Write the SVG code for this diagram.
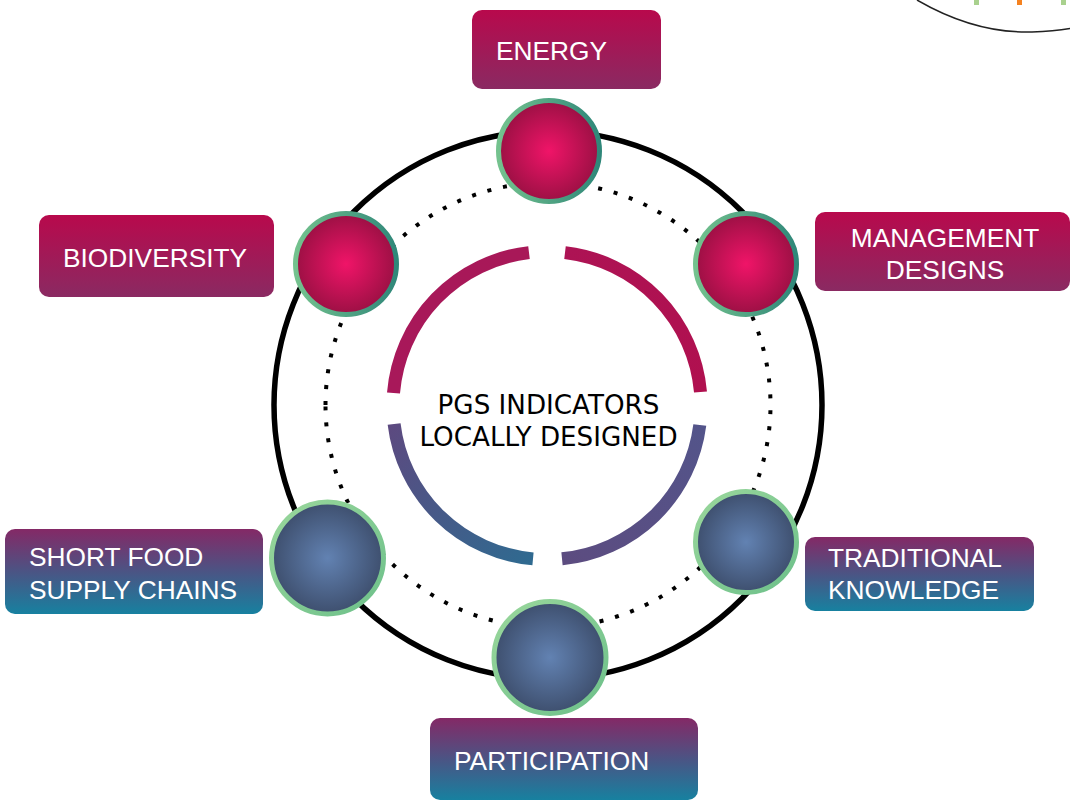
<svg xmlns="http://www.w3.org/2000/svg" width="1070" height="800" viewBox="0 0 1070 800">
<defs>
<radialGradient id="gPink" cx="0.5" cy="0.5" r="0.5">
<stop offset="0" stop-color="#f01468"/>
<stop offset="1" stop-color="#9c1044"/>
</radialGradient>
<radialGradient id="gBlue" cx="0.5" cy="0.5" r="0.5">
<stop offset="0" stop-color="#6282b2"/>
<stop offset="1" stop-color="#3e4f6e"/>
</radialGradient>
<linearGradient id="sTeal" x1="0" y1="0" x2="1" y2="0">
<stop offset="0" stop-color="#74c28e"/>
<stop offset="1" stop-color="#2f8779"/>
</linearGradient>
<linearGradient id="sGreen" x1="0" y1="0" x2="1" y2="1">
<stop offset="0" stop-color="#9ad79c"/>
<stop offset="1" stop-color="#6dc08a"/>
</linearGradient>
<linearGradient id="bPink" x1="0" y1="0" x2="0" y2="1">
<stop offset="0" stop-color="#b8094c"/>
<stop offset="1" stop-color="#8a2a62"/>
</linearGradient>
<linearGradient id="bBlue" x1="0" y1="0" x2="0" y2="1">
<stop offset="0" stop-color="#842966"/>
<stop offset="0.5" stop-color="#4b5484"/>
<stop offset="1" stop-color="#1781a0"/>
</linearGradient>
<linearGradient id="aBL" gradientUnits="userSpaceOnUse" x1="394" y1="424" x2="533" y2="560">
<stop offset="0" stop-color="#5c4a80"/>
<stop offset="1" stop-color="#2f6a90"/>
</linearGradient>
<linearGradient id="aBR" gradientUnits="userSpaceOnUse" x1="700" y1="425" x2="562" y2="560">
<stop offset="0" stop-color="#53548a"/>
<stop offset="1" stop-color="#5c4c80"/>
</linearGradient>
<linearGradient id="aTL" gradientUnits="userSpaceOnUse" x1="394" y1="393" x2="529" y2="252">
<stop offset="0" stop-color="#a8185a"/>
<stop offset="1" stop-color="#a81858"/>
</linearGradient>
<linearGradient id="aTR" gradientUnits="userSpaceOnUse" x1="565" y1="252" x2="700" y2="392">
<stop offset="0" stop-color="#ad1354"/>
<stop offset="1" stop-color="#b0104f"/>
</linearGradient>
</defs>
<style>
.box-text{font-family:"Liberation Sans",Arial,sans-serif;font-size:26.3px;fill:#ffffff;}
.center-text{font-family:"DejaVu Sans",sans-serif;font-size:26.2px;fill:#000000;text-anchor:middle;}
.pink{fill:url(#gPink);stroke:url(#sTeal);stroke-width:5;}
.blue{fill:url(#gBlue);stroke:url(#sGreen);stroke-width:5;}
.arc{fill:none;stroke-width:13;}
</style>

<g id="corner">
<path d="M 917 0 C 955 22 995 33 1032 32 C 1046 31.5 1058 30.5 1070 28.5" fill="none" stroke="#222" stroke-width="1.5"/>
<rect x="974" y="0" width="5" height="5" fill="#a9d18e"/>
<rect x="1017" y="0" width="5" height="5" fill="#f58220"/>
<rect x="1061" y="0" width="5" height="5" fill="#a9d18e"/>
</g>

<g id="connectors">
<circle cx="548" cy="405" r="274" fill="none" stroke="#000" stroke-width="5.5"/>
<path d="M 325.5 405 A 222.5 222.5 0 1 1 770.5 405 A 222.5 222.5 0 1 1 325.5 405" fill="none" stroke="#000" stroke-width="4" stroke-dasharray="4 12"/>
</g>

<g id="center">
<path class="arc" stroke="url(#aTL)" d="M 393.5 393 A 154 154 0 0 1 529 252.6"/>
<path class="arc" stroke="url(#aTR)" d="M 565 252.6 A 154 154 0 0 1 700.5 392"/>
<path class="arc" stroke="url(#aBR)" d="M 699.8 425 A 154 154 0 0 1 562 558.8"/>
<path class="arc" stroke="url(#aBL)" d="M 533 558.9 A 154 154 0 0 1 394.1 424"/>
<text class="center-text" x="548.5" y="414">PGS INDICATORS</text>
<text class="center-text" x="548.5" y="446">LOCALLY DESIGNED</text>
</g>

<g id="energy">
<rect x="472" y="10" width="189" height="79" rx="10" fill="url(#bPink)"/>
<text class="box-text" x="496" y="60">ENERGY</text>
<circle class="pink" cx="549" cy="151" r="50.5"/>
</g>

<g id="management">
<rect x="815" y="212" width="255" height="79" rx="10" fill="url(#bPink)"/>
<text class="box-text" x="945" y="247" text-anchor="middle">MANAGEMENT</text>
<text class="box-text" x="945" y="279" text-anchor="middle">DESIGNS</text>
<circle class="pink" cx="746" cy="264" r="50.5"/>
</g>

<g id="biodiversity">
<rect x="39" y="215" width="235" height="82" rx="10" fill="url(#bPink)"/>
<text class="box-text" x="63" y="267">BIODIVERSITY</text>
<circle class="pink" cx="346" cy="264" r="50.5"/>
</g>

<g id="short-food">
<rect x="5" y="529" width="258" height="85" rx="10" fill="url(#bBlue)"/>
<text class="box-text" x="29" y="566">SHORT FOOD</text>
<text class="box-text" x="29" y="599">SUPPLY CHAINS</text>
<circle class="blue" cx="327.5" cy="558" r="56"/>
</g>

<g id="traditional">
<rect x="805" y="537" width="229" height="74" rx="10" fill="url(#bBlue)"/>
<text class="box-text" x="828" y="567">TRADITIONAL</text>
<text class="box-text" x="828" y="599">KNOWLEDGE</text>
<circle class="blue" cx="746" cy="542" r="50.5"/>
</g>

<g id="participation">
<rect x="430" y="718" width="268" height="82" rx="10" fill="url(#bBlue)"/>
<text class="box-text" x="454" y="770">PARTICIPATION</text>
<circle class="blue" cx="550" cy="657.5" r="56"/>
</g>
</svg>
